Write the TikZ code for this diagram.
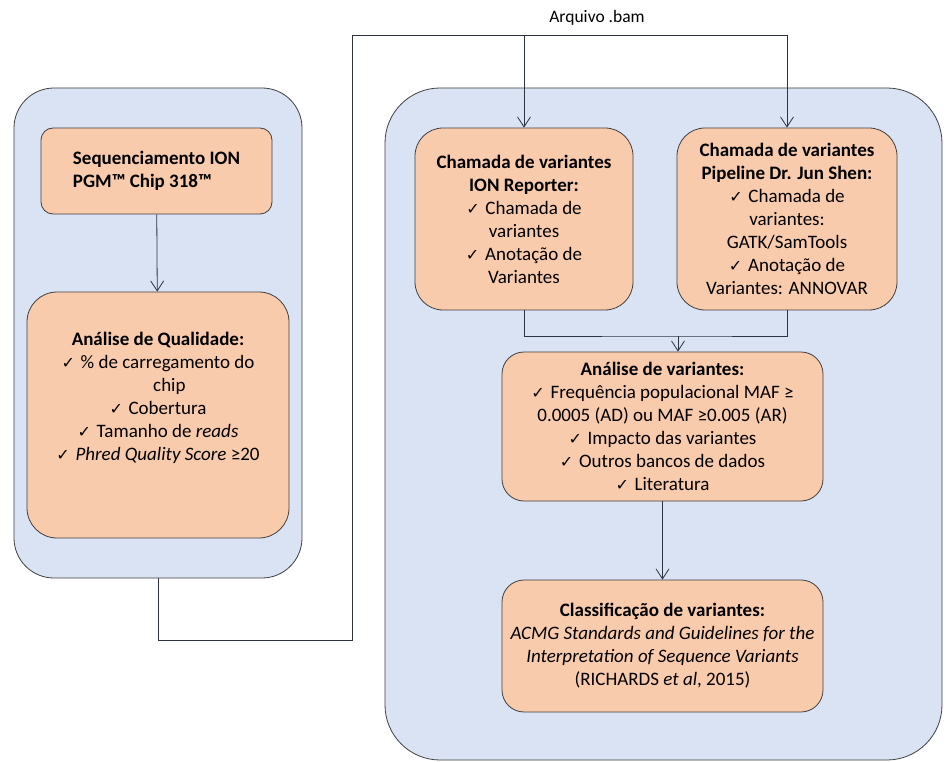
\documentclass[tikz,border=0pt]{standalone}
\usepackage{fontspec}
\setmainfont{Carlito}
\newfontfamily\symfont{DejaVu Sans}
\usetikzlibrary{arrows.meta}
\definecolor{bluefill}{RGB}{218,227,243}
\definecolor{orangefill}{RGB}{248,203,173}
\definecolor{boxline}{RGB}{64,64,64}
\definecolor{linec}{RGB}{45,52,64}
\newcommand{\chk}{{\symfont\fontsize{16}{16}\selectfont ✓}\hspace{0.3em}}
\begin{document}
\begin{tikzpicture}[x=1pt,y=-1pt,
  bluebox/.style={draw=boxline, fill=bluefill, line width=0.8pt, inner sep=0pt},
  orangebox/.style={draw=boxline, fill=orangefill, line width=0.8pt, inner sep=0pt, align=center,
    font=\fontsize{19}{23}\selectfont},
  conn/.style={draw=linec, line width=0.8pt},
  arr/.style={conn, -{Straight Barb[length=10pt,width=13pt]}}]
\useasboundingbox (0,0) rectangle (946,762);

\node[bluebox, rounded corners=40pt, minimum width=288pt, minimum height=490pt] (outerL) at (158,333) {};
\node[bluebox, rounded corners=55pt, minimum width=557pt, minimum height=672pt] (outerR) at (663.5,424) {};

\node[orangebox, rounded corners=12pt, minimum width=231pt, minimum height=86pt, align=left] (seq) at (156.5,171)
  {\textbf{Sequenciamento ION}\\\textbf{PGM™ Chip 318™}};
\node[orangebox, rounded corners=30pt, minimum width=262pt, minimum height=246pt] (qual) at (158,415)
  {\textbf{Análise de Qualidade:}\\\chk\% de carregamento do\\\hspace*{1.2em}chip\\\chk Cobertura\\
   \chk Tamanho de \textit{reads}\\\chk\textit{Phred Quality Score} ≥20\\[14pt]};

\node[orangebox, rounded corners=28pt, minimum width=218pt, minimum height=182pt] (ion) at (524,219)
  {\textbf{Chamada de variantes}\\\textbf{ION Reporter:}\\\chk Chamada de\\variantes\\\chk Anotação de\\Variantes};
\node[orangebox, rounded corners=28pt, minimum width=220pt, minimum height=182pt] (pipe) at (787,219)
  {\textbf{Chamada de variantes}\\\textbf{Pipeline Dr. Jun Shen:}\\\chk Chamada de\\variantes:\\GATK/SamTools\\
   \chk Anotação de\\Variantes: ANNOVAR};

\node[orangebox, rounded corners=22pt, minimum width=321pt, minimum height=149pt] (ana) at (662.5,426.5)
  {\textbf{Análise de variantes:}\\\chk Frequência populacional MAF ≥\\0.0005 (AD) ou MAF ≥0.005 (AR)\\
   \chk Impacto das variantes\\\chk Outros bancos de dados\\\chk Literatura};
\node[orangebox, rounded corners=22pt, minimum width=321pt, minimum height=132pt] (cls) at (662.5,646)
  {\textbf{Classificação de variantes:}\\\textit{ACMG Standards and Guidelines for the}\\
   \textit{Interpretation of Sequence Variants}\\(RICHARDS \textit{et al}, 2015)};

\node[font=\fontsize{17.5}{20}\selectfont] (bam) at (597,18) {Arquivo .bam};

\coordinate (bend) at (352,640);
\coordinate (top) at (352,35);
\coordinate (join) at (678,336);

\draw[arr] (seq) -- (qual);
\draw[conn] (outerL.south) |- (bend) -- (top) -- (top -| pipe.north);
\draw[arr] (top -| ion.north) -- (ion.north);
\draw[arr] (top -| pipe.north) -- (pipe.north);
\draw[conn] (ion.south) |- (join) -| (pipe.south);
\draw[arr] (join) -- (join |- ana.north);
\draw[arr] (ana) -- (cls);
\end{tikzpicture}
\end{document}
